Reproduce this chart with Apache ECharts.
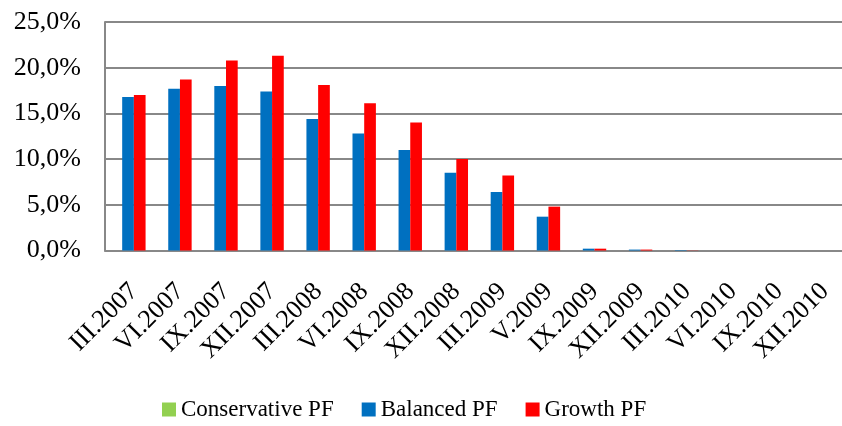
<!DOCTYPE html>
<html>
<head>
<meta charset="utf-8">
<script src="https://cdn.jsdelivr.net/npm/echarts@6/dist/echarts.min.js"></script>
<style>
  html, body { margin: 0; padding: 0; background: #fff; overflow: hidden; }
  #chart { width: 842px; height: 426px; }
</style>
</head>
<body>
<div id="chart"></div>
<script>
// Pension fund returns by quarter (percent)
const categories = ['III.2007', 'VI.2007', 'IX.2007', 'XII.2007', 'III.2008', 'VI.2008', 'IX.2008', 'XII.2008',
  'III.2009', 'V.2009', 'IX.2009', 'XII.2009', 'III.2010', 'VI.2010', 'IX.2010', 'XII.2010'];
const conservative = [0, 0, 0, 0, 0, 0, 0, 0, 0, 0, 0, 0, 0, 0, 0, 0];
const balanced = [16.8, 17.7, 18.0, 17.4, 14.4, 12.8, 11.0, 8.5, 6.4, 3.7, 0.2, 0.1, 0.05, 0, 0, 0];
const growth = [17.0, 18.7, 20.8, 21.3, 18.1, 16.1, 14.0, 10.0, 8.2, 4.8, 0.2, 0.1, 0.02, 0, 0, 0];
const yTicks = [0, 5, 10, 15, 20, 25];

const FONT = '"Liberation Serif", "Times New Roman", serif';
const GRID_COLOR = '#888888';
const fmt = v => v.toFixed(1).replace('.', ',') + '%';

const chart = echarts.init(document.getElementById('chart'));
const bar = (name, data, color) => ({
  name: name, type: 'bar', data: data,
  barWidth: 11.7, barGap: '0%',
  itemStyle: { color: color }
});

chart.setOption({
  animation: false,
  textStyle: { fontFamily: FONT },
  // plot area runs a little past the right edge of the canvas
  grid: { left: 105, top: 22, width: 744, bottom: 175.5, containLabel: false },
  legend: {
    top: 398, left: 162, padding: 0,
    itemWidth: 14, itemHeight: 14, itemGap: 28,
    icon: 'rect',
    textStyle: { fontFamily: FONT, fontSize: 23, color: '#000' },
    data: ['Conservative PF', 'Balanced PF', 'Growth PF']
  },
  xAxis: {
    type: 'category', data: categories,
    axisLine: { show: true, lineStyle: { color: GRID_COLOR, width: 2 } },
    axisTick: { show: false },
    axisLabel: {
      rotate: 45, interval: 0, margin: 31,
      // a thin spacer line above each label nudges the text off the tick
      formatter: v => '{s| }\n{v|' + v + '}',
      rich: {
        s: { fontSize: 1, lineHeight: 17 },
        v: { fontFamily: FONT, fontSize: 26, lineHeight: 30, color: '#000' }
      },
      fontFamily: FONT, fontSize: 26, color: '#000'
    }
  },
  yAxis: {
    type: 'value', min: yTicks[0], max: yTicks[yTicks.length - 1], interval: 5,
    axisLine: { show: true, lineStyle: { color: GRID_COLOR, width: 2 } },
    axisTick: { show: false },
    splitLine: { show: true, lineStyle: { color: GRID_COLOR, width: 2 } },
    axisLabel: { formatter: fmt, margin: 24, fontFamily: FONT, fontSize: 26, color: '#000' }
  },
  series: [
    bar('Conservative PF', conservative, '#92D050'),
    bar('Balanced PF', balanced, '#0070C0'),
    bar('Growth PF', growth, '#FF0000')
  ]
});
</script>
</body>
</html>
